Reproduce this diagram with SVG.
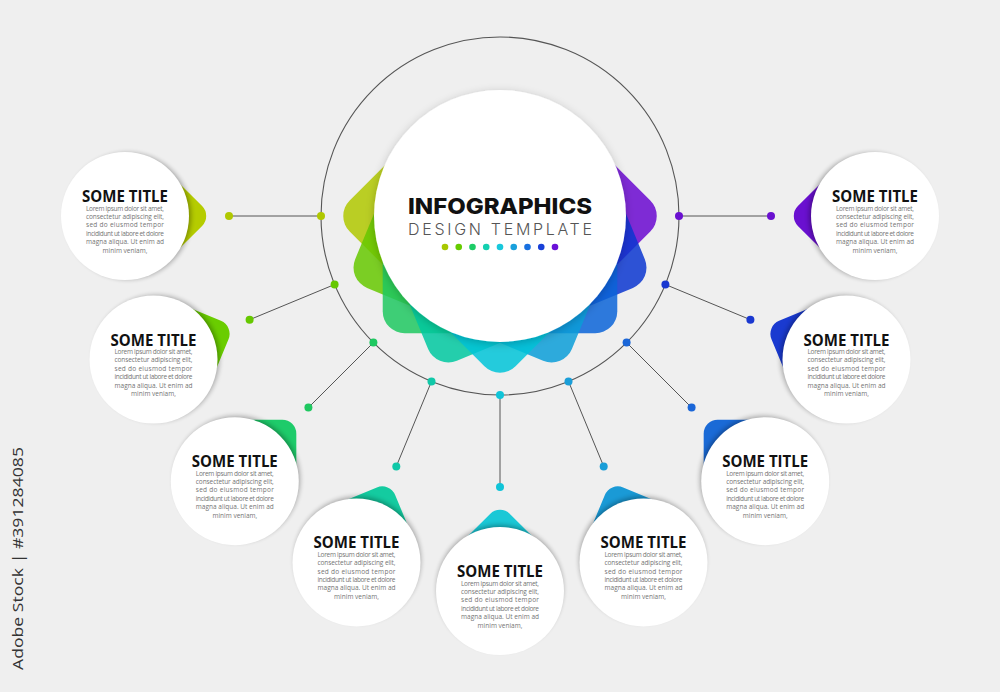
<svg xmlns="http://www.w3.org/2000/svg" width="1000" height="692" viewBox="0 0 1000 692">
<defs>
<filter id="blur" x="-30%" y="-30%" width="160%" height="160%"><feGaussianBlur stdDeviation="2.5"/></filter>
<filter id="cshadow" x="-20%" y="-20%" width="140%" height="140%"><feDropShadow dx="0" dy="2" stdDeviation="4" flood-color="#000" flood-opacity="0.22"/></filter>
<style>
.conn line{stroke:#555;stroke-width:1}
.ring{fill:none;stroke:#555;stroke-width:1.1}
.lobe{opacity:0.85}
.sh{fill:#000;opacity:0.32;filter:url(#blur)}
.disc{fill:#fff}
.title{font-family:"Open Sans","Liberation Sans",sans-serif;font-weight:700;font-size:16.5px;fill:#111;text-anchor:middle}
.body{font-family:"Open Sans","Liberation Sans",sans-serif;font-size:6.5px;fill:#747474}
.last{text-anchor:middle}
.h1{font-family:Inter,"Liberation Sans",sans-serif;font-weight:800;font-size:22px;fill:#111}
.h2{font-family:Inter,"Liberation Sans",sans-serif;font-weight:300;font-size:16px;fill:#555}
.wm{font-family:"Open Sans","Liberation Sans",sans-serif;font-size:15px;fill:#333}
</style>
<g id="bodytext">
<text class="body" x="-39" y="-5.5" textLength="78" lengthAdjust="spacing">Lorem ipsum dolor sit amet,</text>
<text class="body" x="-39" y="2.9" textLength="78" lengthAdjust="spacing">consectetur adipiscing elit,</text>
<text class="body" x="-39" y="11.3" textLength="78" lengthAdjust="spacing">sed do eiusmod tempor</text>
<text class="body" x="-39" y="19.7" textLength="78" lengthAdjust="spacing">incididunt ut labore et dolore</text>
<text class="body" x="-39" y="28.1" textLength="78" lengthAdjust="spacing">magna aliqua. Ut enim ad</text>
<text class="body last" x="0" y="36.5">minim veniam,</text>
</g>
</defs>
<rect width="1000" height="692" fill="#efefef"/>

<circle class="ring" cx="500" cy="216" r="179"/>

<g id="connectors" class="conn">
<line x1="321" y1="216" x2="229" y2="216"/>
<line x1="334.6" y1="284.5" x2="249.6" y2="319.7"/>
<line x1="373.4" y1="342.6" x2="308.4" y2="407.6"/>
<line x1="431.5" y1="381.4" x2="396.3" y2="466.4"/>
<line x1="500" y1="395" x2="500" y2="487"/>
<line x1="568.5" y1="381.4" x2="603.7" y2="466.4"/>
<line x1="626.6" y1="342.6" x2="691.6" y2="407.6"/>
<line x1="665.4" y1="284.5" x2="750.4" y2="319.7"/>
<line x1="679" y1="216" x2="771" y2="216"/>
<g stroke="none">
<circle cx="321" cy="216" r="4" fill="#b0c800"/><circle cx="229" cy="216" r="4" fill="#b0c800"/>
<circle cx="334.6" cy="284.5" r="4" fill="#66c800"/><circle cx="249.6" cy="319.7" r="4" fill="#66c800"/>
<circle cx="373.4" cy="342.6" r="4" fill="#1ec860"/><circle cx="308.4" cy="407.6" r="4" fill="#1ec860"/>
<circle cx="431.5" cy="381.4" r="4" fill="#10c8a8"/><circle cx="396.3" cy="466.4" r="4" fill="#10c8a8"/>
<circle cx="500" cy="395" r="4" fill="#10c4d8"/><circle cx="500" cy="487" r="4" fill="#10c4d8"/>
<circle cx="568.5" cy="381.4" r="4" fill="#1a9ed8"/><circle cx="603.7" cy="466.4" r="4" fill="#1a9ed8"/>
<circle cx="626.6" cy="342.6" r="4" fill="#1a66d8"/><circle cx="691.6" cy="407.6" r="4" fill="#1a66d8"/>
<circle cx="665.4" cy="284.5" r="4" fill="#1a38d0"/><circle cx="750.4" cy="319.7" r="4" fill="#1a38d0"/>
<circle cx="679" cy="216" r="4" fill="#6a10d0"/><circle cx="771" cy="216" r="4" fill="#6a10d0"/>
</g>
</g>

<g id="center">
<g transform="translate(500,216)">
<rect class="lobe" x="-60" y="-60" width="120" height="120" rx="22" fill="#b0c800" transform="rotate(180) translate(81,0) rotate(45)"/>
<rect class="lobe" x="-60" y="-60" width="120" height="120" rx="22" fill="#66c800" transform="rotate(157.5) translate(81,0) rotate(45)"/>
<rect class="lobe" x="-60" y="-60" width="120" height="120" rx="22" fill="#1ec860" transform="rotate(135) translate(81,0) rotate(45)"/>
<rect class="lobe" x="-60" y="-60" width="120" height="120" rx="22" fill="#00c8a0" transform="rotate(112.5) translate(81,0) rotate(45)"/>
<rect class="lobe" x="-60" y="-60" width="120" height="120" rx="22" fill="#6a08d0" transform="rotate(0) translate(81,0) rotate(45)"/>
<rect class="lobe" x="-60" y="-60" width="120" height="120" rx="22" fill="#0a36d0" transform="rotate(22.5) translate(81,0) rotate(45)"/>
<rect class="lobe" x="-60" y="-60" width="120" height="120" rx="22" fill="#0a64d8" transform="rotate(45) translate(81,0) rotate(45)"/>
<rect class="lobe" x="-60" y="-60" width="120" height="120" rx="22" fill="#0a9ed8" transform="rotate(67.5) translate(81,0) rotate(45)"/>
<rect class="lobe" x="-60" y="-60" width="120" height="120" rx="22" fill="#00c4d8" transform="rotate(90) translate(81,0) rotate(45)"/>
</g>
<circle cx="500" cy="216" r="126" fill="#fff" filter="url(#cshadow)"/>
<text class="h1" x="408" y="214" textLength="184" lengthAdjust="spacingAndGlyphs">INFOGRAPHICS</text>
<text class="h2" x="408" y="234.5" textLength="184" lengthAdjust="spacing">DESIGN TEMPLATE</text>
<g>
<circle cx="445" cy="247" r="3.3" fill="#a8c800"/>
<circle cx="458.75" cy="247" r="3.3" fill="#66cc00"/>
<circle cx="472.5" cy="247" r="3.3" fill="#1ccc66"/>
<circle cx="486.25" cy="247" r="3.3" fill="#14d0b0"/>
<circle cx="500" cy="247" r="3.3" fill="#18c8dc"/>
<circle cx="513.75" cy="247" r="3.3" fill="#1aa0dc"/>
<circle cx="527.5" cy="247" r="3.3" fill="#1870e0"/>
<circle cx="541.25" cy="247" r="3.3" fill="#1840d8"/>
<circle cx="555" cy="247" r="3.3" fill="#6a10d8"/>
</g>
</g>

<g id="node1" transform="translate(125,216)">
<g transform="rotate(0)"><rect x="-35" y="-35" width="70" height="70" rx="14" fill="#b5cc00" transform="translate(37.5,0) rotate(45)"/><circle class="sh" cx="3" r="63"/></g>
<circle class="disc" r="64"/>
<text class="title" y="-14" textLength="86" lengthAdjust="spacingAndGlyphs">SOME TITLE</text>
<use href="#bodytext"/>
</g>
<g id="node2" transform="translate(153.5,359.5)">
<g transform="rotate(-22.5)"><rect x="-35" y="-35" width="70" height="70" rx="14" fill="#6acd00" transform="translate(37.5,0) rotate(45)"/><circle class="sh" cx="3" r="63"/></g>
<circle class="disc" r="64"/>
<text class="title" y="-14" textLength="86" lengthAdjust="spacingAndGlyphs">SOME TITLE</text>
<use href="#bodytext"/>
</g>
<g id="node3" transform="translate(234.8,481.2)">
<g transform="rotate(-45)"><rect x="-35" y="-35" width="70" height="70" rx="14" fill="#1ecb6a" transform="translate(37.5,0) rotate(45)"/><circle class="sh" cx="3" r="63"/></g>
<circle class="disc" r="64"/>
<text class="title" y="-14" textLength="86" lengthAdjust="spacingAndGlyphs">SOME TITLE</text>
<use href="#bodytext"/>
</g>
<g id="node4" transform="translate(356.5,562.4)">
<g transform="rotate(-67.5)"><rect x="-35" y="-35" width="70" height="70" rx="14" fill="#14cba0" transform="translate(37.5,0) rotate(45)"/><circle class="sh" cx="3" r="63"/></g>
<circle class="disc" r="64"/>
<text class="title" y="-14" textLength="86" lengthAdjust="spacingAndGlyphs">SOME TITLE</text>
<use href="#bodytext"/>
</g>
<g id="node5" transform="translate(500,591)">
<g transform="rotate(-90)"><rect x="-35" y="-35" width="70" height="70" rx="14" fill="#1ac8d6" transform="translate(37.5,0) rotate(45)"/><circle class="sh" cx="3" r="63"/></g>
<circle class="disc" r="64"/>
<text class="title" y="-14" textLength="86" lengthAdjust="spacingAndGlyphs">SOME TITLE</text>
<use href="#bodytext"/>
</g>
<g id="node6" transform="translate(643.5,562.4)">
<g transform="rotate(-112.5)"><rect x="-35" y="-35" width="70" height="70" rx="14" fill="#1a9ad6" transform="translate(37.5,0) rotate(45)"/><circle class="sh" cx="3" r="63"/></g>
<circle class="disc" r="64"/>
<text class="title" y="-14" textLength="86" lengthAdjust="spacingAndGlyphs">SOME TITLE</text>
<use href="#bodytext"/>
</g>
<g id="node7" transform="translate(765.2,481.2)">
<g transform="rotate(-135)"><rect x="-35" y="-35" width="70" height="70" rx="14" fill="#1a6ad6" transform="translate(37.5,0) rotate(45)"/><circle class="sh" cx="3" r="63"/></g>
<circle class="disc" r="64"/>
<text class="title" y="-14" textLength="86" lengthAdjust="spacingAndGlyphs">SOME TITLE</text>
<use href="#bodytext"/>
</g>
<g id="node8" transform="translate(846.5,359.5)">
<g transform="rotate(-157.5)"><rect x="-35" y="-35" width="70" height="70" rx="14" fill="#1a3ad0" transform="translate(37.5,0) rotate(45)"/><circle class="sh" cx="3" r="63"/></g>
<circle class="disc" r="64"/>
<text class="title" y="-14" textLength="86" lengthAdjust="spacingAndGlyphs">SOME TITLE</text>
<use href="#bodytext"/>
</g>
<g id="node9" transform="translate(875,216)">
<g transform="rotate(180)"><rect x="-35" y="-35" width="70" height="70" rx="14" fill="#6a10d0" transform="translate(37.5,0) rotate(45)"/><circle class="sh" cx="3" r="63"/></g>
<circle class="disc" r="64"/>
<text class="title" y="-14" textLength="86" lengthAdjust="spacingAndGlyphs">SOME TITLE</text>
<use href="#bodytext"/>
</g>

<text class="wm" transform="translate(23,558.5) rotate(-90)" x="0" y="0" text-anchor="middle" textLength="223" lengthAdjust="spacingAndGlyphs">Adobe Stock | #391284085</text>
</svg>
